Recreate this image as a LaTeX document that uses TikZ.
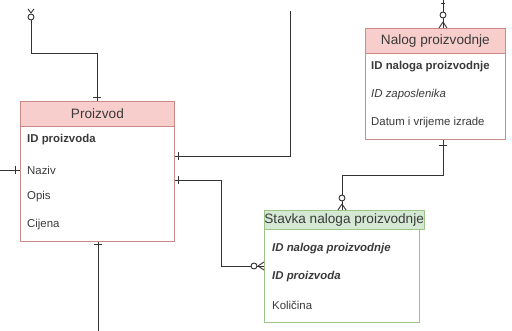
\documentclass[tikz,border=0pt]{standalone}
\usepackage{fontspec}
\setmainfont{Liberation Sans}
\begin{document}
\begin{tikzpicture}[x=1pt,y=-1pt,
  hdrR/.style={draw=pinkB, fill=pinkF, line width=0.8pt, inner sep=0pt, anchor=north west, font=\fontsize{13.6}{15}\selectfont, text=txt},
  hdrG/.style={draw=greenB, fill=greenF, line width=0.8pt, inner sep=0pt, anchor=north west, font=\fontsize{13.6}{15}\selectfont, text=txt},
  bodyR/.style={draw=pinkB, fill=white, line width=0.8pt, inner sep=0pt, anchor=north west},
  bodyG/.style={draw=greenB, fill=white, line width=0.8pt, inner sep=0pt, anchor=north west},
  fld/.style={anchor=west, inner sep=0pt, font=\fontsize{11.4}{13}\selectfont, text=txt},
  conn/.style={draw=lineC, line width=0.9pt},
  erm/.style={draw=lineC, line width=0.9pt},
  circ/.style={draw=lineC, fill=white, line width=0.9pt}
]
\definecolor{pinkF}{HTML}{F8CECC}
\definecolor{pinkB}{HTML}{C98A88}
\definecolor{greenF}{HTML}{D5E8D4}
\definecolor{greenB}{HTML}{9CC486}
\definecolor{txt}{HTML}{3A3A3A}
\definecolor{lineC}{HTML}{333333}
\useasboundingbox (0,0) rectangle (512,331);

% Proizvod
\node[bodyR, minimum width=154pt, minimum height=140pt] (pB) at (20,101) {};
\node[hdrR, minimum width=154pt, minimum height=25pt] (pH) at (20,101) {Proizvod};
\node[fld] (p1) at (27,140) {\textbf{ID proizvoda}};
\node[fld] (p2) at (27,170) {Naziv};
\node[fld] (p3) at (27,197) {Opis};
\node[fld] (p4) at (27,225) {Cijena};

% Nalog proizvodnje
\node[bodyR, minimum width=140pt, minimum height=111pt] (nB) at (365,28) {};
\node[hdrR, minimum width=140pt, minimum height=25pt] (nH) at (365,28) {Nalog proizvodnje};
\node[fld] (n1) at (371,67) {\textbf{ID naloga proizvodnje}};
\node[fld] (n2) at (371,95) {\textit{ID zaposlenika}};
\node[fld] (n3) at (371,123) {Datum i vrijeme izrade};

% Stavka naloga proizvodnje
\node[bodyG, minimum width=155pt, minimum height=112pt] (sB) at (264,210) {};
\node[hdrG, minimum width=155pt, minimum height=19pt] (sH) at (264,210) {Stavka naloga proizvodnje};
\node[fld] (s1) at (272,249) {\textbf{\textit{ID naloga proizvodnje}}};
\node[fld] (s2) at (272,277) {\textbf{\textit{ID proizvoda}}};
\node[fld] (s3) at (272,305) {Količina};

% free ends and bends
\coordinate (tl) at (31,20);
\coordinate (tlB1) at (31,53);
\coordinate (tlB2) at (97,53);
\coordinate (tr) at (290,11);
\coordinate (lf) at (0,170);
\coordinate (bt) at (98,331);
\coordinate (nt) at (443,0);

% connectors
\draw[conn] (tl) -- (tlB1) -- (tlB2) -- (tlB2 |- pH.north);
\draw[conn] (pB.east |- 0,156) -- (290,156) -- (tr);
\draw[conn] (pB.east |- 0,180) -- (221,180) -- (221,266) -- (sB.west |- 0,266);
\draw[conn] (lf) -- (pB.west |- lf);
\draw[conn] (bt |- pB.south) -- (bt);
\draw[conn] (nt) -- (nt |- nH.north);
\draw[conn] (nt |- nB.south) -- (443,175) -- (342,175) -- (342,0 |- sH.north);

% one-markers (ticks)
\draw[erm] (93,97) -- (101,97);
\draw[erm] (178,152) -- (178,160);
\draw[erm] (178,176) -- (178,184);
\draw[erm] (15,166) -- (15,174);
\draw[erm] (94,244) -- (102,244);
\draw[erm] (439,145) -- (447,145);

% zero-to-many markers
\draw[erm] (31,13) -- (28,9) (31,13) -- (34,9);
\draw[circ] (31,17) circle (3pt);
\draw[erm] (443,22) -- (439,28) (443,22) -- (447,28);
\draw[erm] (441,3) -- (445,3);
\draw[circ] (443,15) circle (3pt);
\draw[erm] (342,204) -- (338,210) (342,204) -- (346,210);
\draw[circ] (342,198) circle (3pt);
\draw[erm] (258,266) -- (264,262) (258,266) -- (264,270);
\draw[circ] (254,266) circle (3pt);
\end{tikzpicture}
\end{document}
